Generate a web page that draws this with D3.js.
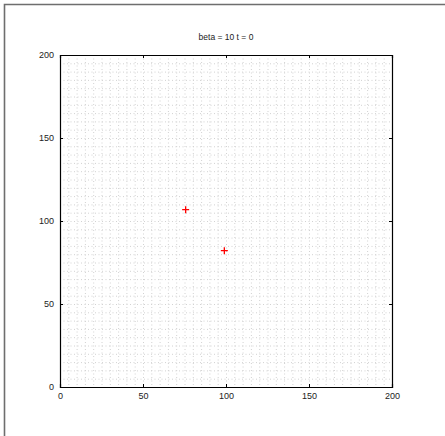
<!DOCTYPE html>
<html><head><meta charset="utf-8">
<script src="https://cdn.jsdelivr.net/npm/d3@7"></script>
<style>body{margin:0;background:#fff;}svg{display:block;}</style>
</head><body>
<script>
const titleText = "beta = 10 t = 0";
const xs = [75.7, 99.0];
const ys = [106.8, 82.1];
const tickVals = [0, 50, 100, 150, 200];
const gridVals = d3.range(5, 200, 5);

const W = 445, H = 436;
const svg = d3.select("body").append("svg").attr("width", W).attr("height", H);
svg.append("rect").attr("width", W).attr("height", H).attr("fill", "#fff");
// outer frame (top and left visible)
svg.append("path").attr("d", `M4.5,${H} V4.5 H${W}`).attr("fill","none").attr("stroke","#6e6e6e").attr("stroke-width",1.6);

const L = 60, R = 392, T = 55, B = 387;
const x = d3.scaleLinear().domain([0,200]).range([L,R]);
const y = d3.scaleLinear().domain([0,200]).range([B,T]);

const g = svg.append("g");
// grid
g.selectAll(".gx").data(gridVals).join("line")
  .attr("x1", d=>x(d)+0.5).attr("x2", d=>x(d)+0.5).attr("y1", T).attr("y2", B)
  .attr("stroke","#d2d2d2").attr("stroke-width",1).attr("stroke-dasharray","1,2.5");
g.selectAll(".gy").data(gridVals).join("line")
  .attr("y1", d=>y(d)+0.5).attr("y2", d=>y(d)+0.5).attr("x1", L).attr("x2", R)
  .attr("stroke","#d2d2d2").attr("stroke-width",1).attr("stroke-dasharray","1,2.5");

// axes
const fs = "9px";
svg.append("g").attr("transform",`translate(0,${B})`)
  .call(d3.axisBottom(x).tickValues(tickVals).tickSize(-3).tickPadding(6));
svg.append("g").attr("transform",`translate(${L},0)`)
  .call(d3.axisLeft(y).tickValues(tickVals).tickSize(-3).tickPadding(6));
svg.append("g").attr("transform",`translate(0,${T})`)
  .call(d3.axisTop(x).tickValues(tickVals).tickSize(-3).tickFormat(""));
svg.append("g").attr("transform",`translate(${R},0)`)
  .call(d3.axisRight(y).tickValues(tickVals).tickSize(-3).tickFormat(""));
svg.selectAll(".domain").attr("stroke","#000").attr("stroke-width",1.2);
svg.selectAll(".tick line").attr("stroke","#000");
svg.selectAll(".tick text").attr("font-family","Liberation Sans, Arial, sans-serif").attr("font-size",fs).attr("fill","#222");

// points
const pts = xs.map((v,i)=>({x:v,y:ys[i]}));
const s = 3.5;
svg.selectAll(".pt").data(pts).join("path")
  .attr("d", d=>`M${x(d.x)-s},${y(d.y)} H${x(d.x)+s} M${x(d.x)},${y(d.y)-s} V${y(d.y)+s}`)
  .attr("stroke","#ff0000").attr("stroke-width",1.3).attr("fill","none");

// title
svg.append("text").attr("x", (L+R)/2).attr("y", 40).attr("text-anchor","middle")
  .attr("font-family","Liberation Sans, Arial, sans-serif").attr("font-size","8.5px").attr("fill","#222")
  .text(titleText);
</script>
</body></html>
